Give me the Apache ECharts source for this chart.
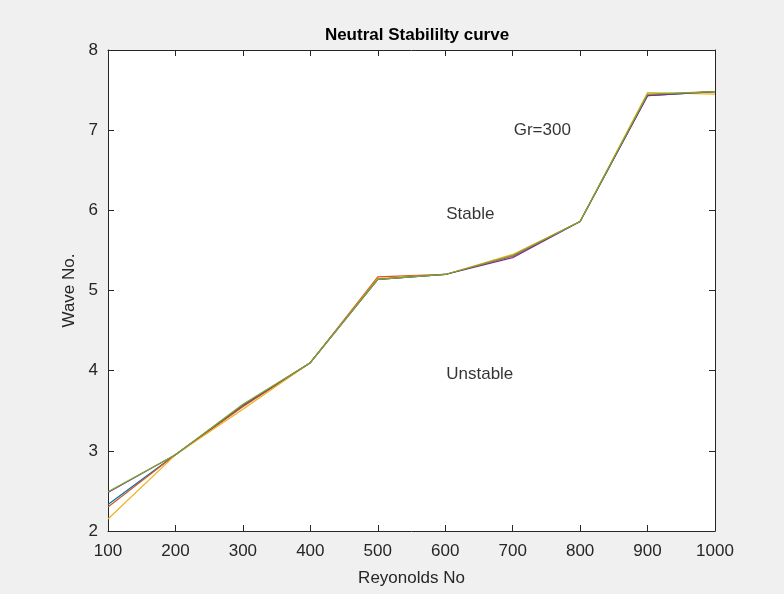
<!DOCTYPE html>
<html>
<head>
<meta charset="utf-8">
<script src="https://cdn.jsdelivr.net/npm/echarts@6/dist/echarts.min.js"></script>
<style>
  html, body { margin: 0; padding: 0; background: #f0f0f0; }
  #chart { width: 784px; height: 594px; }
</style>
</head>
<body>
<div id="chart"></div>
<script>
// Reynolds numbers
const reynolds = [100, 200, 300, 400, 500, 600, 700, 800, 900, 1000]
// wave numbers per run
const run1 = [2.33, 2.95, 3.56, 4.10, 5.14, 5.20, 5.43, 5.86, 7.43, 7.48]
const run2 = [2.30, 2.95, 3.55, 4.10, 5.17, 5.20, 5.43, 5.86, 7.44, 7.48]
const run3 = [2.15, 2.95, 3.52, 4.10, 5.15, 5.20, 5.45, 5.86, 7.47, 7.45]
const run4 = [2.48, 2.95, 3.57, 4.10, 5.14, 5.20, 5.41, 5.86, 7.43, 7.48]
const run5 = [2.49, 2.95, 3.58, 4.10, 5.14, 5.20, 5.44, 5.86, 7.45, 7.48]
// text annotations
const noteText = ['Gr=300', 'Stable', 'Unstable']
const noteX = [700, 600, 600]
const noteY = [7.0, 5.95, 3.95]

const axisColor = '#262626'
const font = 'Arial, "Liberation Sans", sans-serif'

function lineSeries(name, color, values) {
  return {
    name,
    type: 'line',
    data: reynolds.map((x, i) => [x, values[i]]),
    symbol: 'none',
    lineStyle: { width: 1.2, color },
    itemStyle: { color },
    animation: false
  }
}

function valueAxis(extra) {
  return Object.assign({
    type: 'value',
    axisLine: { show: true, onZero: false, lineStyle: { color: axisColor, width: 1 } },
    axisTick: { show: true, inside: true, length: 6, lineStyle: { color: axisColor } },
    splitLine: { show: false },
    axisLabel: { color: axisColor, fontSize: 16, fontFamily: font }
  }, extra)
}

const chart = echarts.init(document.getElementById('chart'))
chart.setOption({
  backgroundColor: '#f0f0f0',
  title: {
    text: 'Neutral Stabililty curve',
    left: 412,
    textAlign: 'center',
    top: 22,
    textStyle: { fontSize: 17, fontWeight: 'bold', color: '#000', fontFamily: font }
  },
  grid: { left: 108, right: 69, top: 50, bottom: 63, show: true, backgroundColor: '#fff', borderWidth: 0 },
  xAxis: [
    valueAxis({
      min: 100, max: 1000, interval: 100, position: 'bottom',
      name: 'Reyonolds No', nameLocation: 'middle', nameGap: 39,
      nameTextStyle: { color: axisColor, fontSize: 17, fontFamily: font },
      axisLabel: { color: axisColor, fontSize: 17, fontFamily: font, margin: 12, formatter: v => String(v) }
    }),
    valueAxis({ min: 100, max: 1000, interval: 100, position: 'top', axisLabel: { show: false } })
  ],
  yAxis: [
    valueAxis({
      min: 2, max: 8, interval: 1, position: 'left',
      name: 'Wave No.', nameLocation: 'middle', nameGap: 29,
      nameTextStyle: { color: axisColor, fontSize: 17, fontFamily: font },
      axisLabel: { color: axisColor, fontSize: 17, fontFamily: font, margin: 10 }
    }),
    valueAxis({ min: 2, max: 8, interval: 1, position: 'right', axisLabel: { show: false } })
  ],
  series: [
    lineSeries('run1', '#0072BD', run1),
    lineSeries('run2', '#D95319', run2),
    lineSeries('run3', '#EDB120', run3),
    lineSeries('run4', '#7E2F8E', run4),
    lineSeries('run5', '#77AC30', run5),
    {
      type: 'scatter',
      symbolSize: 0,
      silent: true,
      animation: false,
      data: noteText.map((t, i) => ({ value: [noteX[i], noteY[i]], name: t })),
      label: {
        show: true,
        position: 'right',
        distance: 1,
        formatter: p => p.name,
        color: '#000',
        fontSize: 17,
        fontFamily: font
      }
    }
  ]
})
</script>
</body>
</html>
